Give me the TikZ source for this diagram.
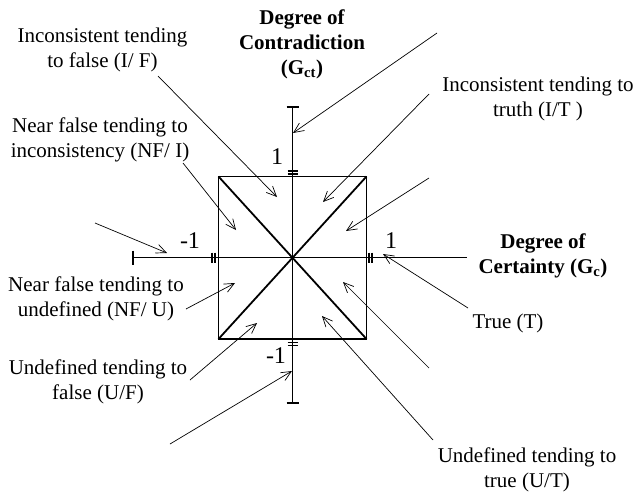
\documentclass[tikz,border=0pt]{standalone}
\usepackage{fontspec}
\setmainfont{Liberation Serif}
\usetikzlibrary{arrows.meta}
\begin{document}
\begin{tikzpicture}[x=1pt,y=-1pt,
  boxline/.style={line width=1.8pt},
  axline/.style={line width=1.7pt},
  ptr/.style={line width=0.7pt,-{Straight Barb[length=10pt,width=9pt,line width=0.7pt]}},
  lbl/.style={font=\fontsize{21}{25}\selectfont,align=center,inner sep=0pt},
  numlbl/.style={font=\fontsize{24}{28}\selectfont,inner sep=0pt},
  blbl/.style={font=\fontsize{21}{25}\selectfont\bfseries,align=center,inner sep=0pt},
  tickline/.style={line width=1.2pt}]
\useasboundingbox (0,0) rectangle (637,493);
% frame
\coordinate (O) at (292.5,257.5);
\coordinate (TL) at (218.5,176.5);
\coordinate (TR) at (366.5,176.5);
\coordinate (BL) at (218.5,339);
\coordinate (BR) at (366.5,339);
\coordinate (Vt) at (292.5,107);
\coordinate (Vb) at (292.5,403);
\coordinate (Hl) at (133,257.5);
\coordinate (Hr) at (467,257.5);
\draw[boxline] (TL) rectangle (BR);
\draw[boxline] (TL) -- (BR);
\draw[boxline] (TR) -- (BL);
\draw[axline] (Vt) -- (Vb);
\draw[axline] (Hl) -- (Hr);
% end bars
\draw[tickline] (286.5,107) -- (298.5,107);
\draw[tickline] (286.5,403) -- (298.5,403);
\draw[tickline] (133,250.5) -- (133,264.5);
% double ticks
\draw[tickline] (287.5,171) -- (297.5,171) (287.5,174) -- (297.5,174);
\draw[tickline] (287.5,342.5) -- (297.5,342.5) (287.5,345.5) -- (297.5,345.5);
\draw[tickline] (212,252.5) -- (212,262.5) (215,252.5) -- (215,262.5);
\draw[tickline] (369,252.5) -- (369,262.5) (372,252.5) -- (372,262.5);
% numbers
\node[numlbl,anchor=base] (n1t) at (277,164) {1};
\node[numlbl,anchor=base] (n1l) at (190,248) {-1};
\node[numlbl,anchor=base] (n1r) at (391,248) {1};
\node[numlbl,anchor=base] (n1b) at (276,363) {-1};
% labels
\node[blbl] (gct) at (302,44.5) {Degree of\\Contradiction\\(G\textsubscript{ct})};
\node[blbl] (gc) at (543,255.5) {Degree of\\Certainty (G\textsubscript{c})};
\node[lbl] (lIF) at (102.5,49.5) {Inconsistent tending\\to false (I/ F)};
\node[lbl] (lNFI) at (100,140) {Near false tending to\\inconsistency (NF/ I)};
\node[lbl] (lNFU) at (96,299) {Near false tending to\\undefined (NF/ U)};
\node[lbl] (lUF) at (98,381.5) {Undefined tending to\\false (U/F)};
\node[lbl] (lIT) at (538,99) {Inconsistent tending to\\truth (I/T )};
\node[lbl] (lT) at (508,323) {True (T)};
\node[lbl] (lUT) at (527,469.5) {Undefined tending to\\true (U/T)};
% arrow ends
\coordinate (a1t) at (158,76);   \coordinate (a1h) at (277,197);
\coordinate (a2t) at (183,163);  \coordinate (a2h) at (236,230);
\coordinate (a3t) at (95,223);   \coordinate (a3h) at (167,253);
\coordinate (a4t) at (186,309);  \coordinate (a4h) at (235,283);
\coordinate (a5t) at (190,380);  \coordinate (a5h) at (257,323);
\coordinate (a6t) at (170,444);  \coordinate (a6h) at (292,371);
\coordinate (a7t) at (437,33);   \coordinate (a7h) at (293,133);
\coordinate (a8t) at (429,94);   \coordinate (a8h) at (323,202);
\coordinate (a9t) at (429,178);  \coordinate (a9h) at (346,231);
\coordinate (a10t) at (468,308); \coordinate (a10h) at (383,254);
\coordinate (a11t) at (429,368); \coordinate (a11h) at (343,282);
\coordinate (a12t) at (433,440); \coordinate (a12h) at (322,316);
\foreach \i in {1,...,12} {\draw[ptr] (a\i t) -- (a\i h);}
\end{tikzpicture}
\end{document}
